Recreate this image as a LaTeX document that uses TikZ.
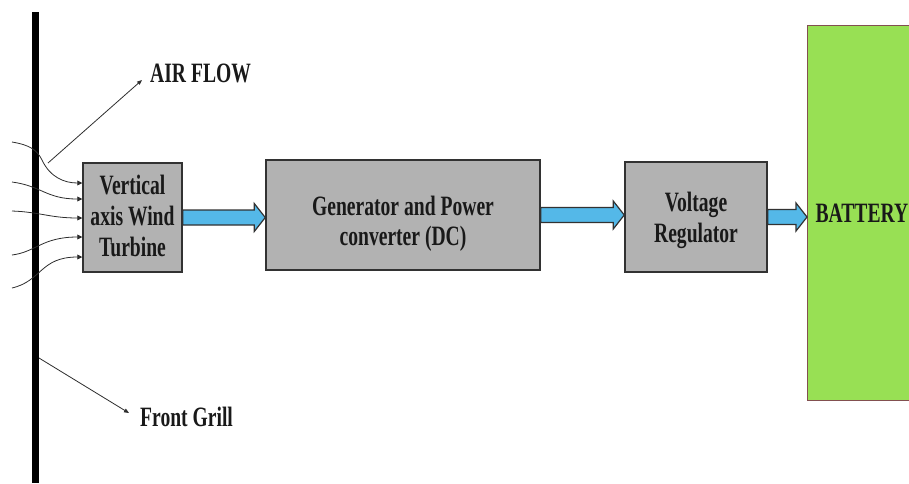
\documentclass[tikz,border=0pt]{standalone}
\usepackage{fontspec}
\setmainfont{Liberation Serif}[FakeStretch=0.7]
\usetikzlibrary{arrows.meta,calc}
\definecolor{boxgray}{RGB}{178,178,178}
\definecolor{boxedge}{RGB}{50,50,50}
\definecolor{flowblue}{RGB}{84,184,232}
\definecolor{battgreen}{RGB}{152,224,84}
\definecolor{battedge}{RGB}{130,80,80}
\definecolor{wire}{RGB}{45,45,45}
\tikzset{
  bigtext/.style={font=\bfseries\fontsize{28}{31}\selectfont},
  block/.style={draw=boxedge, line width=1.5pt, fill=boxgray, align=center,
    bigtext, inner sep=0pt, text=black!90},
  battbox/.style={draw=battedge, line width=1.2pt, fill=battgreen, inner sep=8pt,
    bigtext, align=left, text=black!90},
  tag/.style={bigtext, inner sep=0pt, text=black!90},
  fatarrow/.style={draw=boxedge, line width=1.2pt, fill=flowblue, line join=miter},
  pointer/.style={draw=wire, line width=0.8pt, -{Triangle[length=5pt,width=4pt]}},
  airline/.style={draw=wire, line width=0.8pt, -{Triangle[length=5pt,width=5pt]}},
}
% broad outlined arrow from the east side of #1 to the west side of #2
\newcommand\flowarrow[2]{%
  \path[fatarrow] let \p1=(#1.east), \p2=(#2.west) in
    (\x1,\y1+7.5pt) -- (\x2-11pt,\y1+7.5pt) -- (\x2-11pt,\y1+14pt) -- (\x2,\y1)
    -- (\x2-11pt,\y1-14pt) -- (\x2-11pt,\y1-7.5pt) -- (\x1,\y1-7.5pt) -- cycle;}
\begin{document}
\begin{tikzpicture}[x=1pt,y=-1pt]
\useasboundingbox (0,0) rectangle (909,483);
\clip (0,0) rectangle (909,483);

% blocks
\node[block, minimum width=99pt, minimum height=109pt] (turb) at (132.5,217.5)
  {Vertical\\axis Wind\\Turbine\rule[-3pt]{0pt}{1pt}};
\node[block, minimum width=274pt, minimum height=110pt] (gen) at (403,215)
  {\rule{0pt}{37pt}Generator and Power\\[-1pt]converter (DC)};
\node[block, minimum width=142pt, minimum height=110pt] (reg) at (696,217)
  {\rule{0pt}{27pt}Voltage\\Regulator};
\node[battbox, minimum height=375pt, text width=100pt, anchor=north west] (batt) at (807,25)
  {BATTERY};

% power flow
\flowarrow{turb}{gen}
\flowarrow{gen}{reg}
\flowarrow{reg}{batt}

% front grill
\coordinate (gtop) at (35,12);
\coordinate (gbot) at (35,483);
\draw[line width=7pt, black] (gtop) -- (gbot);

% incoming air
\draw[airline] (12,142) .. controls (30,145) and (37,150) .. (42,160)
  .. controls (50,177) and (64,183) .. ($(turb.west)+(0,-34.5)$);
\draw[airline] (12,182) .. controls (42,186) and (46,199) .. ($(turb.west)+(0,-18.5)$);
\draw[airline] (12,211) .. controls (40,212) and (50,218) .. ($(turb.west)+(0,0.5)$);
\draw[airline] (12,255) .. controls (36,252) and (42,237) .. ($(turb.west)+(0,19.5)$);
\draw[airline] (12,288) .. controls (42,281) and (40,257) .. ($(turb.west)+(0,39.5)$);

% callouts
\node[tag, anchor=base west] (air) at (150,82) {AIR FLOW};
\node[tag, anchor=base west] (grill) at (140,426) {Front Grill};
\coordinate (airfrom) at (48,163);
\coordinate (grillfrom) at (39,358);
\draw[pointer] (airfrom) -- ($(air.base west)+(-8,-2)$);
\draw[pointer] (grillfrom) -- ($(grill.base west)+(-11,-13)$);
\end{tikzpicture}
\end{document}
